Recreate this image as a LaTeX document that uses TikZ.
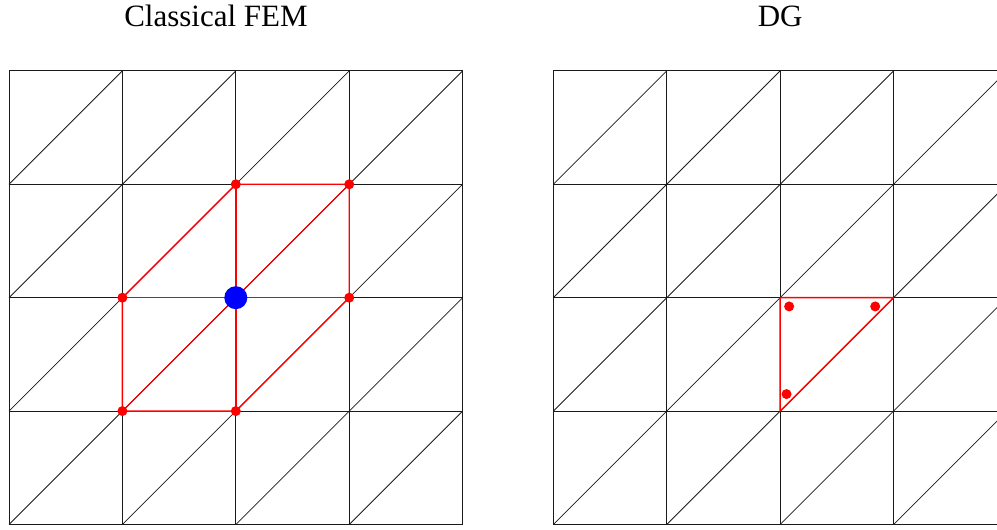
\documentclass[tikz,border=0pt]{standalone}
\usepackage{fontspec}
\setmainfont{Liberation Serif}
\usetikzlibrary{calc}
\definecolor{FRed}{RGB}{ 255, 0, 0 }
\definecolor{FBlue}{RGB}{ 0, 0, 255 }
\definecolor{MGray}{HTML}{1A1A1A}
\tikzset{
    meshline/.style={MGray, line width=0.8pt},
    patchline/.style={FRed, line width=1.4pt, line join=round},
    title/.style={font=\fontsize{31}{31}\selectfont, inner sep=0pt, anchor=base}
}
\NewDocumentCommand{\MeshGrid}{O{(0,0)}}{
    \begin{scope}[shift={#1}]
    \foreach \k in {0,...,4}{
        \draw[meshline] (\k,0) -- (\k,4);
        \draw[meshline] (0,\k) -- (4,\k);
    }
    \foreach \i in {0,...,3}{
        \foreach \j in {0,...,3}{
            \draw[meshline] (\i,\j) -- ++(1,1);
        }
    }
    \end{scope}
}
\NewDocumentCommand{\DofRed}{O{(0,0)}}{
    \fill[FRed] #1 circle (5pt);
}
\NewDocumentCommand{\DofBlue}{O{(0,0)}}{
    \fill[FBlue] #1 circle (11.5pt);
}
\newcommand{\Canvas}{
\useasboundingbox (-0.0794,-0.0397) rectangle (8.712,4.625);

\begin{scope}[shift={(0,0)}, name prefix=FEM-]
    \coordinate (center) at (2,2);
    \coordinate (north) at (2,3);
    \coordinate (north-east) at (3,3);
    \coordinate (east) at (3,2);
    \coordinate (south) at (2,1);
    \coordinate (south-west) at (1,1);
    \coordinate (west) at (1,2);
\end{scope}

\begin{scope}[shift={(4.8,0)}, name prefix=DG-]
    \coordinate (corner) at (2,2);
    \coordinate (east) at (3,2);
    \coordinate (south) at (2,1);
\end{scope}
}

\begin{document}
\begin{tikzpicture}[x=113.4pt, y=113.4pt]
\Canvas
\MeshGrid[(0,0)]
\MeshGrid[(4.8,0)]

\node[title] (fem-title) at (1.825,4.387) {Classical FEM};
\node[title] (dg-title) at (6.8,4.387) {DG};

% patch of the central node
\draw[patchline] (FEM-north) -- (FEM-north-east) -- (FEM-east) -- (FEM-south)
    -- (FEM-south-west) -- (FEM-west) -- cycle;
\draw[patchline] (FEM-north) -- (FEM-south);
\draw[patchline] (FEM-west) -- (FEM-east);
\draw[patchline] (FEM-south-west) -- (FEM-north-east);

\DofRed[(FEM-north)]
\DofRed[(FEM-north-east)]
\DofRed[(FEM-east)]
\DofRed[(FEM-south)]
\DofRed[(FEM-south-west)]
\DofRed[(FEM-west)]
\DofBlue[(FEM-center)]

% one element with its own dofs
\draw[patchline] (DG-corner) -- (DG-east) -- (DG-south) -- cycle;
\DofRed[($(DG-corner)+(0.079,-0.077)$)]
\DofRed[($(DG-east)+(-0.162,-0.077)$)]
\DofRed[($(DG-south)+(0.056,0.15)$)]

\end{tikzpicture}
\end{document}
